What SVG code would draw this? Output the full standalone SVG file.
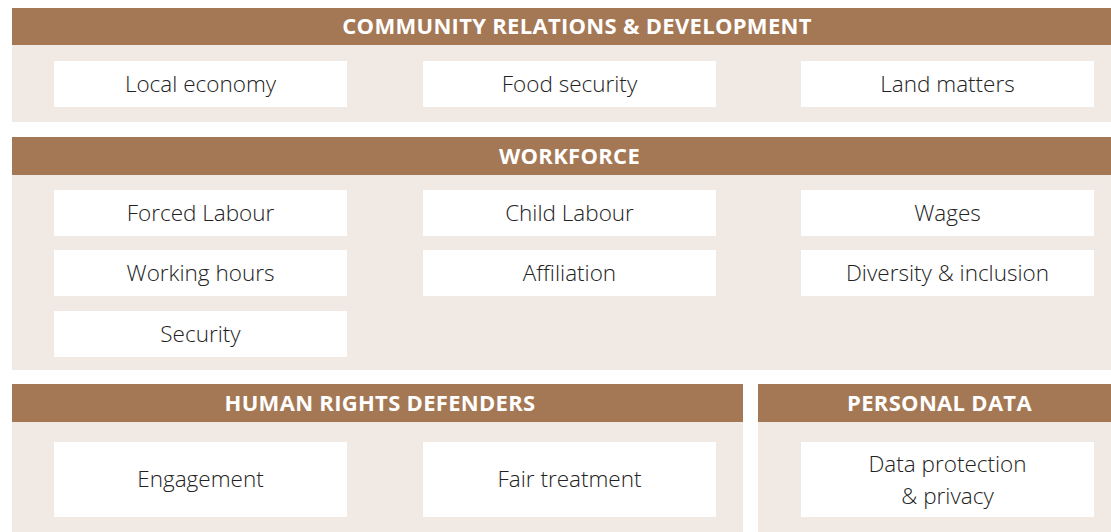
<svg xmlns="http://www.w3.org/2000/svg" width="1111" height="532" viewBox="0 0 1111 532">
<style>
.hd{fill:#A57855}
.bd{fill:#F1E9E3}
.bx{fill:#FFFFFF}
.ht{font-family:"Open Sans","Liberation Sans",sans-serif;font-weight:700;font-size:22px;letter-spacing:0.3px;fill:#FFFFFF;text-anchor:middle}
.t{font-family:"Open Sans","Liberation Sans",sans-serif;font-weight:300;font-size:22.5px;letter-spacing:0px;fill:#222222;text-anchor:middle}
</style>
<rect width="1111" height="532" fill="#FFFFFF"/>
<g id="sec-community">
<rect class="bd" x="12" y="45" width="1099" height="77"/>
<rect class="hd" x="12" y="8" width="1099" height="37"/>
<text class="ht" x="577" y="34">COMMUNITY RELATIONS &amp; DEVELOPMENT</text>
</g>
<g id="n-local-economy"><rect class="bx" x="54" y="61" width="293" height="46"/><text class="t" x="200.5" y="92">Local economy</text></g>
<g id="n-food-security"><rect class="bx" x="423" y="61" width="293" height="46"/><text class="t" x="569.5" y="92">Food security</text></g>
<g id="n-land-matters"><rect class="bx" x="801" y="61" width="293" height="46"/><text class="t" x="947.5" y="92">Land matters</text></g>
<g id="sec-workforce">
<rect class="bd" x="12" y="175" width="1099" height="195"/>
<rect class="hd" x="12" y="137" width="1099" height="38"/>
<text class="ht" x="569.5" y="163.5">WORKFORCE</text>
</g>
<g id="n-forced-labour"><rect class="bx" x="54" y="190" width="293" height="46"/><text class="t" x="200.5" y="221">Forced Labour</text></g>
<g id="n-child-labour"><rect class="bx" x="423" y="190" width="293" height="46"/><text class="t" x="569.5" y="221">Child Labour</text></g>
<g id="n-wages"><rect class="bx" x="801" y="190" width="293" height="46"/><text class="t" x="947.5" y="221">Wages</text></g>
<g id="n-working-hours"><rect class="bx" x="54" y="250" width="293" height="46"/><text class="t" x="200.5" y="281">Working hours</text></g>
<g id="n-affiliation"><rect class="bx" x="423" y="250" width="293" height="46"/><text class="t" x="569.5" y="281">Affiliation</text></g>
<g id="n-diversity"><rect class="bx" x="801" y="250" width="293" height="46"/><text class="t" x="947.5" y="281">Diversity &amp; inclusion</text></g>
<g id="n-security"><rect class="bx" x="54" y="311" width="293" height="46"/><text class="t" x="200.5" y="342">Security</text></g>
<g id="sec-hrd">
<rect class="bd" x="12" y="422" width="731" height="110"/>
<rect class="hd" x="12" y="384" width="731" height="38"/>
<text class="ht" x="380" y="410.5">HUMAN RIGHTS DEFENDERS</text>
</g>
<g id="n-engagement"><rect class="bx" x="54" y="442" width="293" height="75"/><text class="t" x="200.5" y="487">Engagement</text></g>
<g id="n-fair-treatment"><rect class="bx" x="423" y="442" width="293" height="75"/><text class="t" x="569.5" y="487">Fair treatment</text></g>
<g id="sec-personal-data">
<rect class="bd" x="758" y="422" width="353" height="110"/>
<rect class="hd" x="758" y="384" width="353" height="38"/>
<text class="ht" x="939.5" y="410.5">PERSONAL DATA</text>
</g>
<g id="n-data-protection"><rect class="bx" x="801" y="442" width="293" height="75"/><text class="t" x="947.5" y="471.5">Data protection</text><text class="t" x="947.5" y="503.5">&amp; privacy</text></g>
<g id="connectors"></g>
</svg>
